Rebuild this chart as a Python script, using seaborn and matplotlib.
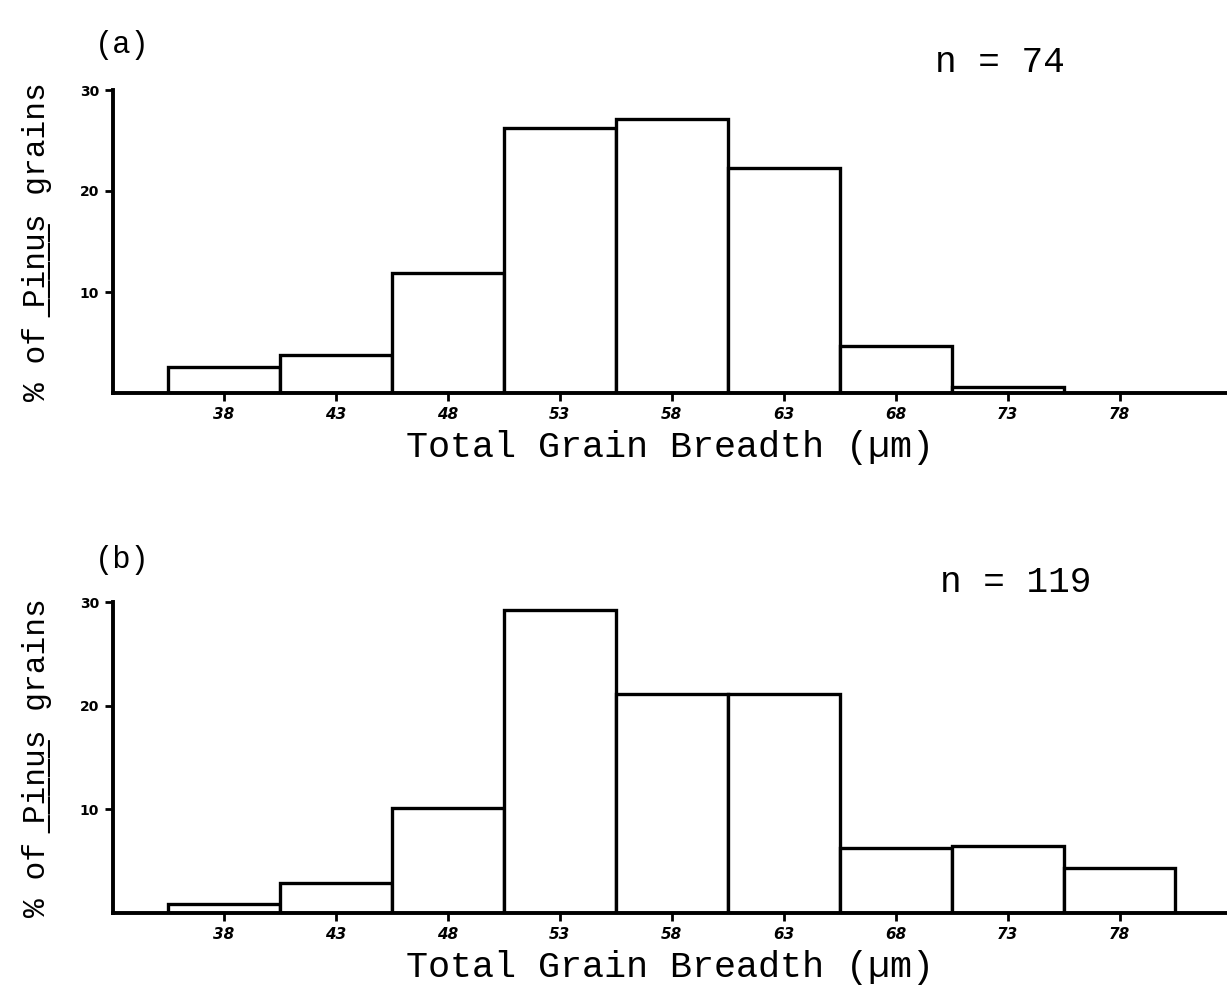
import numpy as np
import pandas as pd
import matplotlib
matplotlib.use("Agg")
import matplotlib.pyplot as plt
import seaborn as sns

# Data
bin_centers = [38, 43, 48, 53, 58, 63, 68, 73, 78]
tick_labels = ["38", "43", "48", "53", "58", "63", "68", "73", "78"]
pct_a = [2.6, 3.8, 11.9, 26.2, 27.1, 22.3, 4.7, 0.6, 0.0]
pct_b = [0.9, 2.9, 10.1, 29.2, 21.1, 21.1, 6.3, 6.5, 4.3]
y_ticks = [10, 20, 30]
n_a = 74
n_b = 119

sns.set_theme(style="white")
plt.rcParams["font.family"] = ["Liberation Mono", "DejaVu Sans Mono"]
plt.rcParams["text.color"] = "black"
plt.rcParams["axes.labelcolor"] = "black"
plt.rcParams["xtick.color"] = "black"
plt.rcParams["ytick.color"] = "black"

fig = plt.figure(figsize=(12.27, 9.86), dpi=100)
ax_a = fig.add_axes([113/1227, 1-393/986, (1227-113)/1227, (393-90)/986])
ax_b = fig.add_axes([113/1227, 1-913/986, (1227-113)/1227, (913-602)/986])

ylab = "% of \u0332P\u0332i\u0332n\u0332u\u0332s grains"

for ax, vals in [(ax_a, pct_a), (ax_b, pct_b)]:
    df = pd.DataFrame({"breadth": bin_centers, "pct": vals})
    sns.histplot(data=df, x="breadth", weights="pct", binwidth=5,
                 binrange=(bin_centers[0] - 2.5, bin_centers[-1] + 2.5), ax=ax,
                 color="white", edgecolor="black", linewidth=2.4, alpha=1)
    ax.set_xlim(33.05, 82.8)
    ax.set_ylim(0, 30)
    for s in ["top", "right"]:
        ax.spines[s].set_visible(False)
    for s in ["left", "bottom"]:
        ax.spines[s].set_linewidth(2.8)
        ax.spines[s].set_color("black")
    ax.set_xticks(bin_centers)
    ax.set_xticklabels(tick_labels, fontsize=11, fontweight="bold", style="italic",
                       family="DejaVu Sans")
    ax.set_yticks(y_ticks)
    ax.set_yticklabels([str(t) for t in y_ticks], fontsize=10, fontweight="bold",
                       family="DejaVu Sans")
    ax.tick_params(axis="both", direction="out", length=6, width=2, color="black",
                   bottom=True, left=True, pad=4)
    ax.set_xlabel("Total Grain Breadth (µm)", fontsize=26.5, labelpad=6)
    ax.set_ylabel(ylab, fontsize=22.5, labelpad=20)
    ax.set_facecolor("white")

fig.text(95/1227, 1-45/986, "(a)", fontsize=22, ha="left", va="center")
fig.text(95/1227, 1-560/986, "(b)", fontsize=22, ha="left", va="center")
fig.text(935/1227, 1-62/986, f"n = {n_a}", fontsize=26, ha="left", va="center")
fig.text(940/1227, 1-582/986, f"n = {n_b}", fontsize=26, ha="left", va="center")

fig.savefig("out.png", dpi=100, facecolor="white")
